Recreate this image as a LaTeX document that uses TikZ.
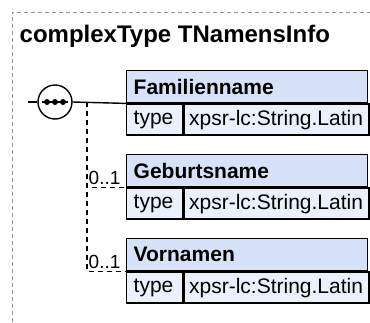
\documentclass[tikz,border=0pt]{standalone}
\usepackage{fontspec}
\setmainfont{Liberation Sans}
\usetikzlibrary{positioning}
\definecolor{hdrBlue}{RGB}{213,226,248}
\definecolor{rowBlue}{RGB}{234,240,252}
\definecolor{frameGray}{RGB}{150,150,150}

\begin{document}
\begin{tikzpicture}[x=1pt, y=-1pt, line width=1.4pt,
    frameline/.style={frameGray, line width=1pt, dash pattern=on 4pt off 3pt},
    optline/.style={dash pattern=on 5pt off 4pt},
    seqnode/.style={circle, draw, fill=white, minimum size=34pt, inner sep=0pt},
    hdr/.style={draw, fill=hdrBlue, anchor=north west, minimum height=32pt, text width=227pt, inner xsep=7pt, align=left, font=\bfseries\fontsize{21}{24}\selectfont},
    celltype/.style={draw, fill=rowBlue, anchor=north west, minimum height=31pt, text width=42pt, inner xsep=7pt, align=left, font=\fontsize{21}{24}\selectfont},
    cellval/.style={draw, fill=rowBlue, anchor=north west, minimum height=31pt, text width=175pt, inner xsep=5pt, align=left, font=\fontsize{21}{24}\selectfont},
    occ/.style={anchor=base west, inner sep=0pt, font=\fontsize{19}{21}\selectfont}]
  \useasboundingbox (0,0) rectangle (370,322);
  \draw[frameline] (12,322) -- (12,12) -- (370,12);
  \node[anchor=base west, inner sep=0pt, font=\bfseries\fontsize{24}{28}\selectfont] (title) at (19,42) {complexType TNamensInfo};

  \foreach \nm/\yy/\id in {Familienname/70/fam, Geburtsname/154/geb, Vornamen/238/vor} {
    \node[hdr] (\id) at (126,\yy) {\nm};
    \node[celltype] (\id t) at (\id.south west) {type};
    \node[cellval] (\id v) at (\id t.north east) {\mbox{xpsr-lc:String.Latin}};
  }

  \node[seqnode] (seq) at (55,102) {};
  \draw[line width=1.2pt] ([xshift=-13pt]seq.center) -- ([xshift=13pt]seq.center);
  \foreach \dx in {-8,0,8}
    \fill ([xshift=\dx pt]seq.center) circle (3pt);

  \coordinate (in) at (28,102);
  \coordinate (br) at (87,102);
  \draw (in) -- (seq.west);
  \draw (seq.east) -- (fam.south west);
  \foreach \id in {geb,vor} {
    \draw[optline] (br) |- (\id.south west);
    \node[occ] (\id o) at ([xshift=-38pt, yshift=3pt]\id.south west) {0..1};
  }
\end{tikzpicture}
\end{document}
